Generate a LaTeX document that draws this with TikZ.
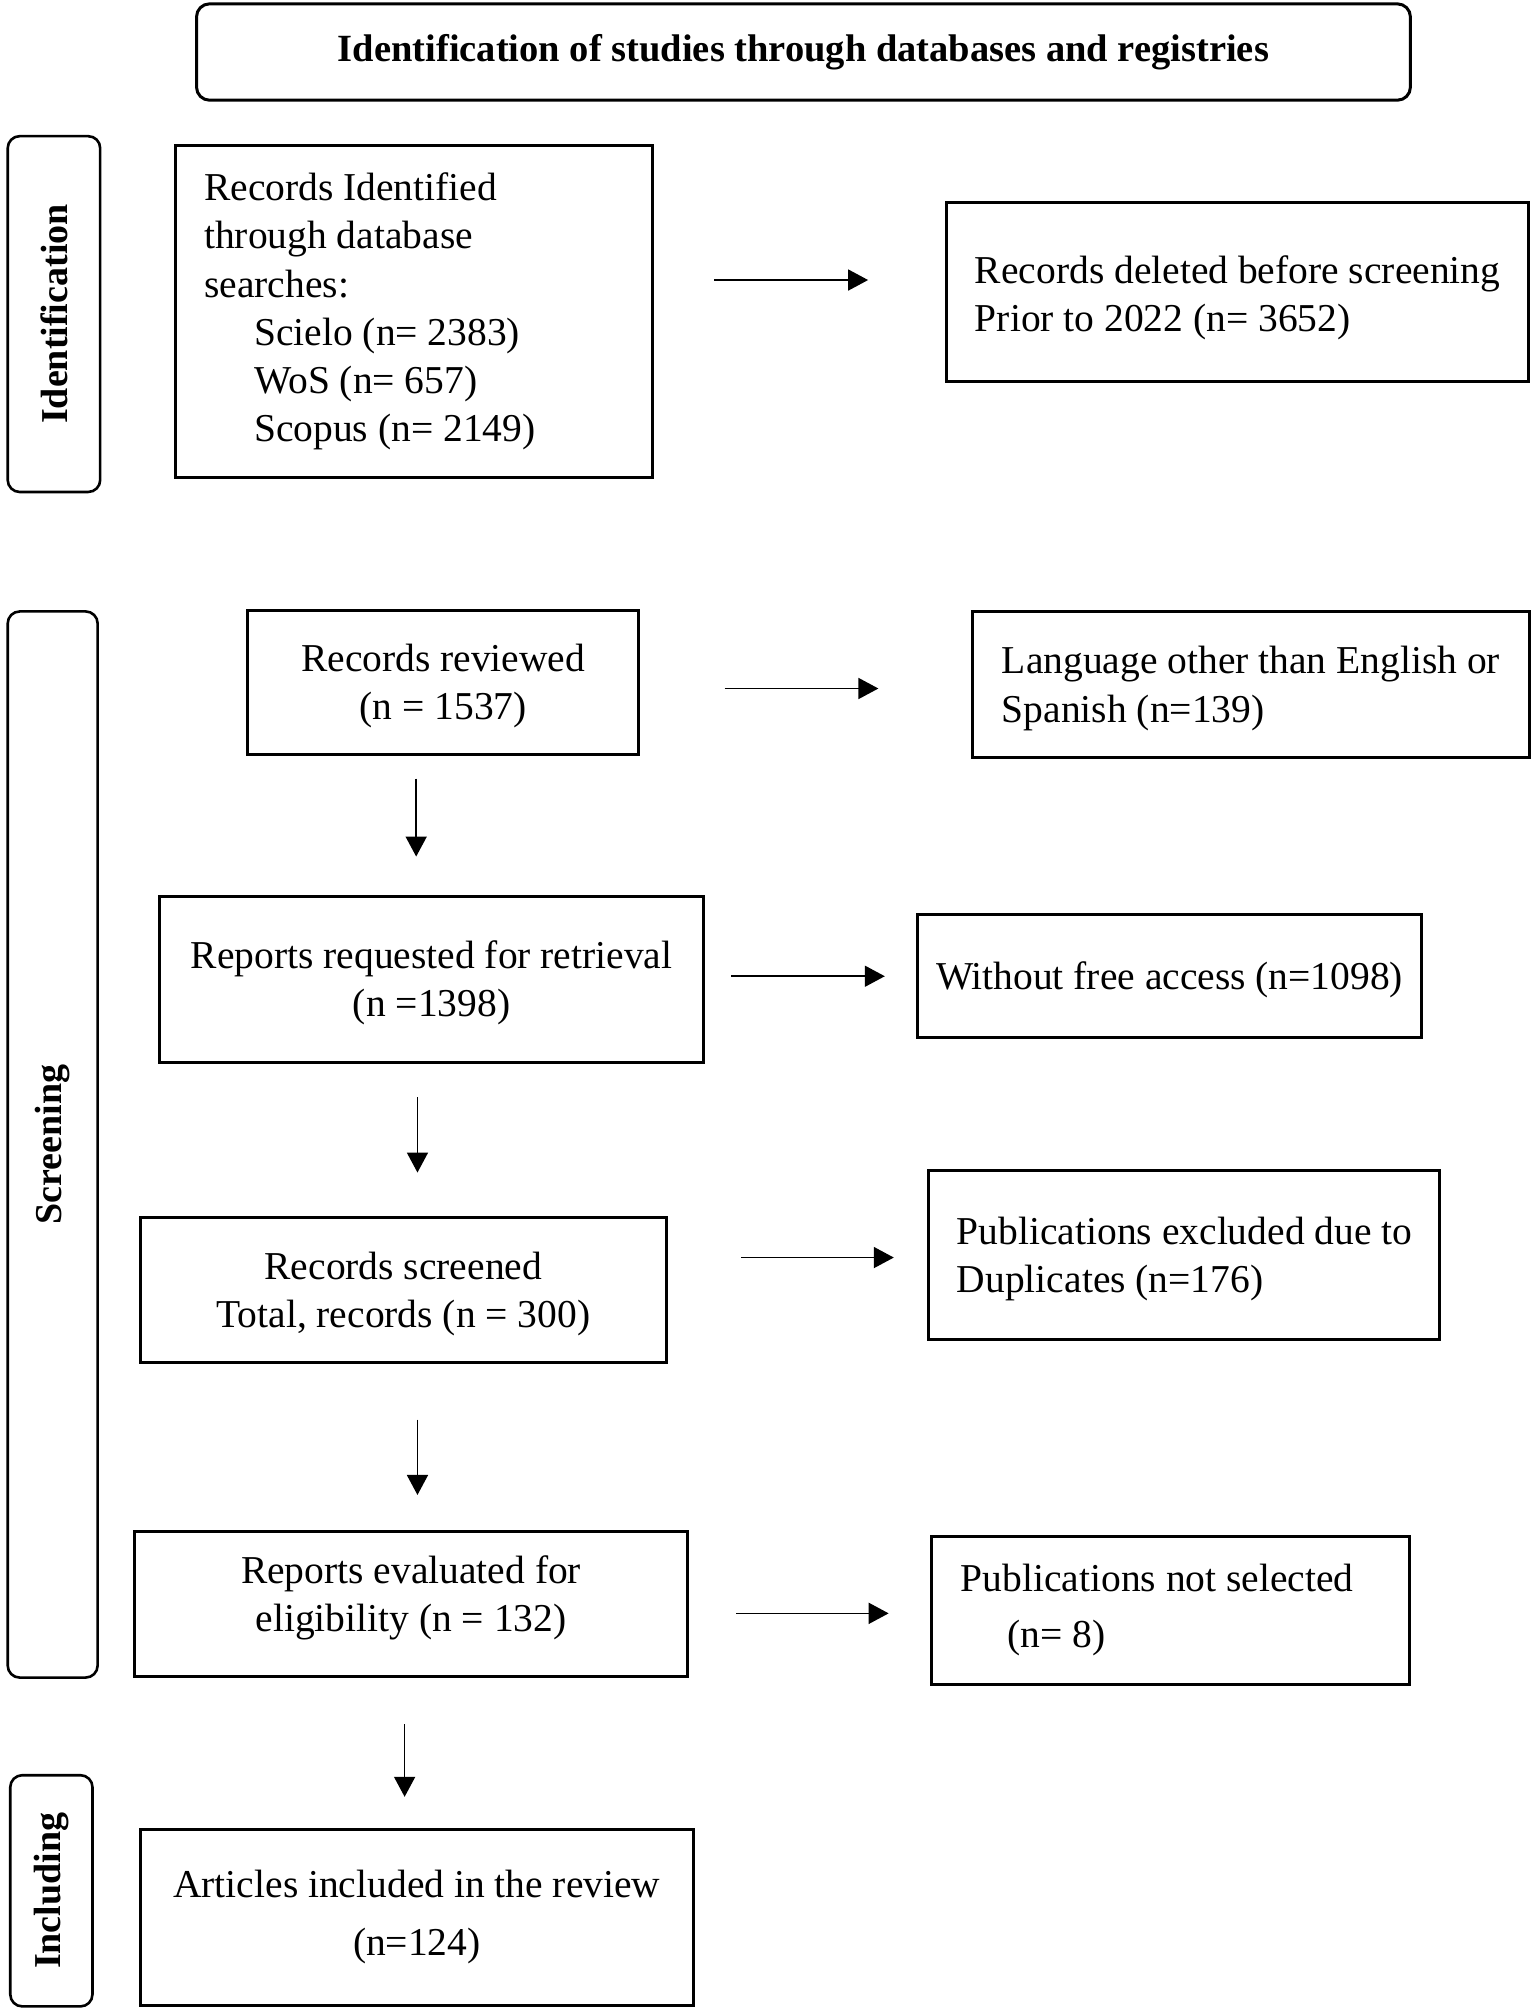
\documentclass[tikz,border=0pt]{standalone}
\usepackage{fontspec}
\setmainfont{Liberation Serif}
\usetikzlibrary{arrows.meta,calc}
\def\U{1.2845}
\newcommand\tstr{\spaceskip=0pt\xspaceskip=0pt\rule{0pt}{35pt}}
\newcommand\nosp{\spaceskip=0pt\xspaceskip=0pt}
\tikzset{
  basebox/.style={draw, line width=3pt, rectangle, inner sep=0pt, font=\fontsize{39.5}{48.2}\selectfont},
  cbox/.style={basebox, align=center},
  lbox/.style={basebox, align=left},
  titlebox/.style={draw, line width=3pt, rounded corners=13pt, inner sep=0pt, font=\bfseries\fontsize{38.5}{44}\selectfont},
  lab/.style={draw, line width=2.6pt, rounded corners=12pt, rotate=90, inner sep=0pt, font=\bfseries\fontsize{38}{44}\selectfont},
  arr/.style={line width=1.7pt, -{Triangle[length=20pt,width=21pt]}}
}
\begin{document}
\begin{tikzpicture}[x=1.2845pt,y=-1.2845pt]
\useasboundingbox (0,0) rectangle (1195,1564.8);

\node[titlebox, minimum width=945*\U, minimum height=75*\U] (t) at (625.5,40.5) {Identification of studies through databases and registries};

\node[lab, minimum width=277*\U, minimum height=72*\U] (l1) at (42,244.5) {Identification};
\node[lab, minimum width=830*\U, minimum height=70*\U] (l2) at (41,891) {Screening};
\node[lab, minimum width=180*\U, minimum height=64*\U] (l3) at (40,1472) {Including};

\node[lbox, inner xsep=22*\U, text width=327*\U, minimum height=259*\U] (b1) at (322.5,242.5)
  {\nosp\mbox{Records Identified}\\ \mbox{through database}\\ \mbox{searches:}\\
   \hspace*{50pt}\mbox{Scielo (n= 2383)}\\ \hspace*{50pt}\mbox{WoS (n= 657)}\\ \hspace*{50pt}\mbox{Scopus (n= 2149)}};
\node[lbox, inner xsep=22*\U, text width=409*\U, minimum height=139*\U] (b2) at (963.5,227.5)
  {\nosp\rule{0pt}{38.5pt}\mbox{Records deleted before screening}\\ \mbox{Prior to 2022 (n= 3652)}};

\node[cbox, minimum width=304*\U, minimum height=112*\U] (b3) at (345,531) {\tstr Records reviewed\\(n = 1537)};
\node[lbox, inner xsep=23*\U, text width=388*\U, minimum height=114*\U] (b4) at (974,533)
  {\tstr\mbox{Language other than English or}\\ \mbox{Spanish (n=139)}};

\node[cbox, minimum width=424*\U, minimum height=129*\U] (b5) at (336,762.5) {\tstr Reports requested for retrieval\\(n =1398)};
\node[cbox, minimum width=393*\U, minimum height=96*\U] (b6) at (910.5,760) {\tstr Without free access (n=1098)};

\node[cbox, minimum width=410*\U, minimum height=113*\U] (b7) at (314,1004.5) {\tstr Records screened\\Total, records (n = 300)};
\node[lbox, inner xsep=22*\U, text width=354*\U, minimum height=132*\U] (b8) at (922,977)
  {\tstr\mbox{Publications excluded due to}\\ \mbox{Duplicates (n=176)}};

\node[cbox, minimum width=430*\U, minimum height=113*\U] (b9) at (320,1248.5) {Reports evaluated for\\eligibility (n = 132)\rule[-21pt]{0pt}{0pt}};
\node[lbox, inner xsep=23*\U, text width=326*\U, minimum height=115*\U] (b10) at (911,1253.5)
  {\nosp\mbox{Publications not selected}\\[8pt] \hspace*{47pt}\mbox{(n= 8)}};

\node[cbox, minimum width=431*\U, minimum height=137*\U] (b11) at (324.5,1492.5) {Articles included in the review\\[9.6pt](n=124)};

% horizontal arrows
\draw[arr, shorten <=47*\U, shorten >=60*\U] ($(b1.east)+(0,-24.5)$) -- ($(b2.west)+(0,-9.5)$);
\draw[arr, shorten <=66*\U, shorten >=72*\U] ($(b3.east)+(0,5)$) -- ($(b4.west)+(0,3)$);
\draw[arr, shorten <=20*\U, shorten >=24*\U] ($(b5.east)+(0,-2.5)$) -- ($(b6.west)+(0,0)$);
\draw[arr, shorten <=57*\U, shorten >=26*\U] ($(b7.east)+(0,-25.5)$) -- ($(b8.west)+(0,2)$);
\draw[arr, shorten <=37*\U, shorten >=32*\U] ($(b9.east)+(0,7.5)$) -- ($(b10.west)+(0,2.5)$);

% vertical arrows
\draw[arr, shorten <=18*\U, shorten >=30*\U] ($(b3.south)+(-21,0)$) -- ($(b5.north)+(-12,0)$);
\draw[arr, shorten <=26*\U, shorten >=34*\U] ($(b5.south)+(-11,0)$) -- ($(b7.north)+(11,0)$);
\draw[arr, shorten <=43*\U, shorten >=27*\U] ($(b7.south)+(11,0)$) -- ($(b9.north)+(5,0)$);
\draw[arr, shorten <=36*\U, shorten >=24*\U] ($(b9.south)+(-5,0)$) -- ($(b11.north)+(-9.5,0)$);
\end{tikzpicture}
\end{document}
